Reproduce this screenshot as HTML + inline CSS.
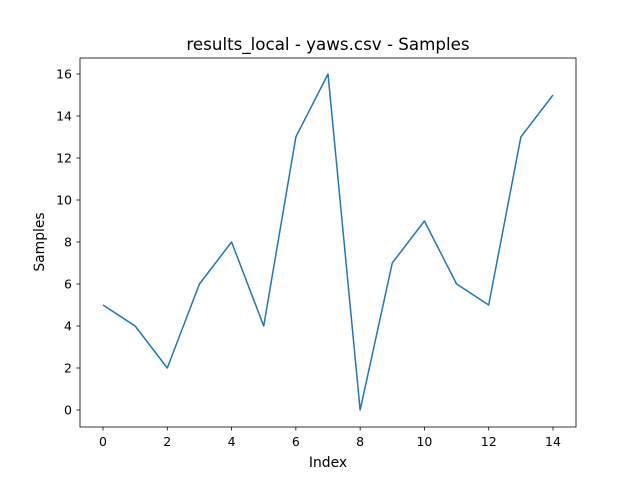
<!DOCTYPE html>
<html><head><meta charset="utf-8"><style>
body{margin:0;background:#fff}
svg text{font-family:"DejaVu Sans","Liberation Sans",sans-serif;fill:#000}
</style></head><body>
<svg id="chart" width="640" height="480">
<rect x="0" y="0" width="640" height="480" fill="#fff"/>
<text x="328" y="50" font-size="16.7" text-anchor="middle">results_local - yaws.csv - Samples</text>
<g id="xticks"></g>
<g id="yticks"></g>
<path id="line" fill="none" stroke="#1f77b4" stroke-width="1.5" stroke-linejoin="round"/>
<rect x="80" y="58" width="496" height="369" fill="none" stroke="#000" stroke-width="0.8"/>
<text x="328" y="467" font-size="13.9" text-anchor="middle">Index</text>
<text transform="translate(44,242) rotate(-90)" font-size="13.9" text-anchor="middle">Samples</text>
</svg>
<script>
const samples=[5,4,2,6,8,4,13,16,0,7,9,6,5,13,15];
const xTickLabels=[0,2,4,6,8,10,12,14];
const yTickLabels=[0,2,4,6,8,10,12,14,16];
const NS="http://www.w3.org/2000/svg";
const xs=i=>103+(553-103)*i/14;
const ys=v=>410-(410-74)*v/16;
const xg=document.getElementById('xticks'),yg=document.getElementById('yticks');
xTickLabels.forEach(t=>{
 const l=document.createElementNS(NS,'line');
 l.setAttribute('x1',xs(t));l.setAttribute('x2',xs(t));l.setAttribute('y1',427);l.setAttribute('y2',430.5);l.setAttribute('stroke','#000');l.setAttribute('stroke-width','0.8');
 
 
 xg.appendChild(l);
 const tx=document.createElementNS(NS,'text');
 tx.setAttribute('x',xs(t));tx.setAttribute('y',446);tx.setAttribute('font-size','12.5');tx.setAttribute('text-anchor','middle');tx.textContent=t;
 
 
 xg.appendChild(tx);
});
yTickLabels.forEach(t=>{
 const l=document.createElementNS(NS,'line');
 l.setAttribute('x1',76.5);l.setAttribute('x2',80);l.setAttribute('y1',ys(t));l.setAttribute('y2',ys(t));l.setAttribute('stroke','#000');l.setAttribute('stroke-width','0.8');
 
 
 yg.appendChild(l);
 const tx=document.createElementNS(NS,'text');
 tx.setAttribute('x',72);tx.setAttribute('y',ys(t)+4.5);tx.setAttribute('font-size','12.5');tx.setAttribute('text-anchor','end');tx.textContent=t;
 
 
 yg.appendChild(tx);
});
document.getElementById('line').setAttribute('d',samples.map((v,i)=>(i?'L':'M')+xs(i)+','+ys(v)).join(' '));
</script>
</body></html>
